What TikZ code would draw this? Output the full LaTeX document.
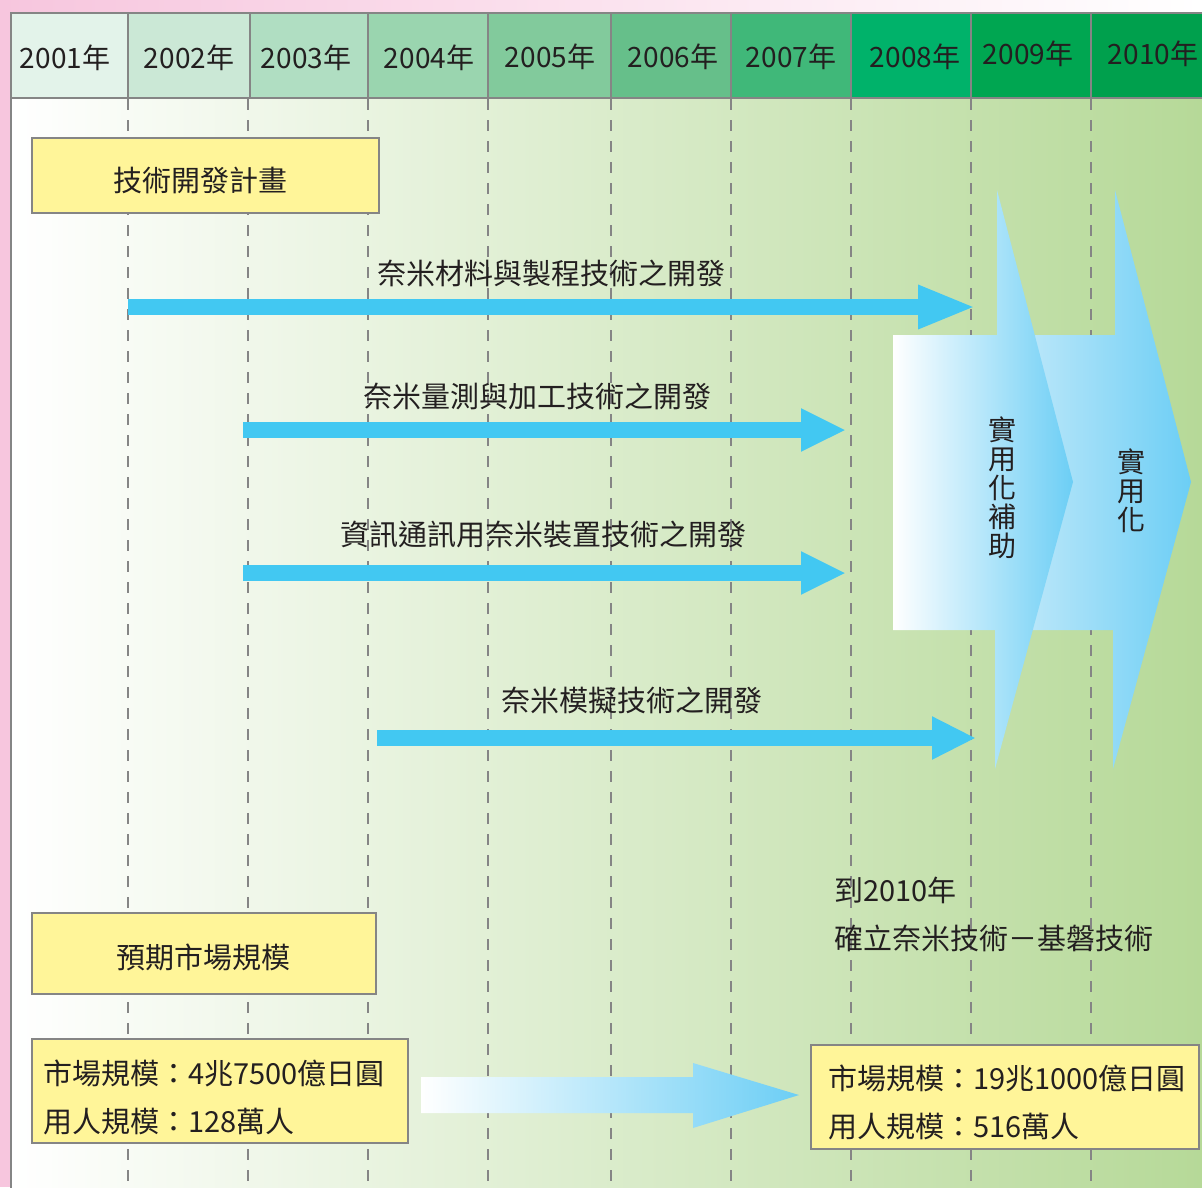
\documentclass[tikz,border=0pt]{standalone}
\usepackage{fontspec}
\setmainfont{Noto Sans CJK TC}
\usetikzlibrary{arrows.meta}
\definecolor{pinkc}{HTML}{F7C6DE}
\definecolor{gridgray}{HTML}{858585}
\definecolor{bodygreen}{HTML}{B6D998}
\definecolor{boxyellow}{HTML}{FFF599}
\definecolor{arrowblue}{HTML}{42C8F2}
\definecolor{chevblue}{HTML}{6CCEF5}
\definecolor{chevlight}{HTML}{C8EBFA}
\definecolor{textc}{HTML}{231F20}
\definecolor{hA}{HTML}{E3F3EA}
\definecolor{hB}{HTML}{CBE8D6}
\definecolor{hC}{HTML}{B0DEC2}
\definecolor{hD}{HTML}{9AD5AF}
\definecolor{hE}{HTML}{82CA9C}
\definecolor{hF}{HTML}{66BF8A}
\definecolor{hG}{HTML}{40B879}
\definecolor{hH}{HTML}{00B26A}
\definecolor{hI}{HTML}{00A651}
\definecolor{hJ}{HTML}{00A04D}
\begin{document}
\begin{tikzpicture}[x=1pt,y=-1pt,
  txt/.style={font=\fontsize{29}{31}\selectfont, text=textc, inner sep=0pt},
  yeartxt/.style={font=\fontsize{28}{30}\selectfont, text=textc, inner sep=0pt},
  vtxt/.style={font=\fontsize{28}{29}\selectfont, text=textc, inner sep=0pt, align=center},
  hcell/.style={draw=gridgray, line width=2.5pt},
  dashline/.style={draw=gridgray, line width=2.8pt, dash pattern=on 11pt off 10pt},
  ybox/.style={draw=gridgray, line width=2.5pt, fill=boxyellow, inner sep=0pt},
  bluearrow/.style={draw=arrowblue, line width=16pt, -{Triangle[length=#1,width=40pt]}},
  bluearrow/.default=45pt
]
\useasboundingbox (0,0) rectangle (1202,1187);
\clip (0,0) rectangle (1202,1187);
% backgrounds
\shade[left color=pinkc, right color=white] (0,0) rectangle (1202,13);
\fill[pinkc] (0,0) rectangle (11,1187);
\shade[left color=white, right color=bodygreen] (11,98) rectangle (1202,1187);
% header cells
\foreach \a/\b/\c in {11/128/hA,128/250/hB,250/368/hC,368/488/hD,488/611/hE,611/731/hF,731/851/hG,851/971/hH,971/1091/hI,1091/1220/hJ}
  \filldraw[hcell, fill=\c] (\a,13) rectangle (\b,98);
\draw[gridgray, line width=2.5pt] (11,13) -- (11,1190);
% year labels
\node[yeartxt] (y1) at (65,58) {2001年};
\node[yeartxt] (y2) at (189,58) {2002年};
\node[yeartxt] (y3) at (306,58) {2003年};
\node[yeartxt] (y4) at (429,58) {2004年};
\node[yeartxt] (y5) at (550,57) {2005年};
\node[yeartxt] (y6) at (673,57) {2006年};
\node[yeartxt] (y7) at (791,57) {2007年};
\node[yeartxt] (y8) at (915,57) {2008年};
\node[yeartxt] (y9) at (1028,54) {2009年};
\node[yeartxt] (y10) at (1153,54) {2010年};
% dashed year lines
\foreach \x in {128,248,368,488,611,731,851,971,1091}
  \draw[dashline] (\x,99) -- (\x,1190);
% plan box
\node[ybox, minimum width=347pt, minimum height=75pt] (plan) at (205.5,175.5) {};
\node[txt] (plantxt) at (200,180) {技術開發計畫};
% development arrows
\coordinate (a1s) at (128,307); \coordinate (a1e) at (976,307);
\coordinate (a2s) at (243,430); \coordinate (a2e) at (846,430);
\coordinate (a3s) at (243,573); \coordinate (a3e) at (846,573);
\coordinate (a4s) at (377,738); \coordinate (a4e) at (976,738);
\draw[bluearrow=58pt] (a1s) -- (a1e);
\draw[bluearrow] (a2s) -- (a2e);
\draw[bluearrow] (a3s) -- (a3e);
\draw[bluearrow=44pt] (a4s) -- (a4e);
\node[txt] (l1) at (551,273) {奈米材料與製程技術之開發};
\node[txt] (l2) at (537,396) {奈米量測與加工技術之開發};
\node[txt] (l3) at (543,534) {資訊通訊用奈米裝置技術之開發};
\node[txt] (l4) at (632,700) {奈米模擬技術之開發};
% chevrons
\shade[left color=chevlight, right color=chevblue]
  (1000,335) -- (1115,335) -- (1115,190) -- (1191,482) -- (1113,769) -- (1113,630) -- (1000,630) -- cycle;
\shade[left color=white, right color=chevblue]
  (893,335) -- (997,335) -- (997,190) -- (1073,482) -- (995,769) -- (995,630) -- (893,630) -- cycle;
\node[vtxt] (v1) at (1002,488) {實\\用\\化\\補\\助};
\node[vtxt] (v2) at (1131,491) {實\\用\\化};
% goal text
\node[txt, anchor=west] (g1) at (834,890) {到2010年};
\node[txt, anchor=west] (g2) at (834,938) {確立奈米技術－基磐技術};
% market heading
\node[ybox, minimum width=344pt, minimum height=81pt] (mkt) at (204,953.5) {};
\node[txt] (mkttxt) at (203,957) {預期市場規模};
% market boxes
\node[ybox, minimum width=376pt, minimum height=104pt] (m1) at (220,1091) {};
\node[txt, anchor=west] (m1a) at (43,1073) {市場規模：4兆7500億日圓};
\node[txt, anchor=west] (m1b) at (43,1122) {用人規模：128萬人};
\node[ybox, minimum width=388pt, minimum height=104pt] (m2) at (1005,1097) {};
\node[txt, anchor=west] (m2a) at (828,1078) {市場規模：19兆1000億日圓};
\node[txt, anchor=west] (m2b) at (828,1127) {用人規模：516萬人};
% growth arrow
\shade[left color=white, right color=chevblue]
  (421,1077) -- (693,1077) -- (693,1063) -- (799,1095) -- (693,1128) -- (693,1113) -- (421,1113) -- cycle;
\end{tikzpicture}
\end{document}
